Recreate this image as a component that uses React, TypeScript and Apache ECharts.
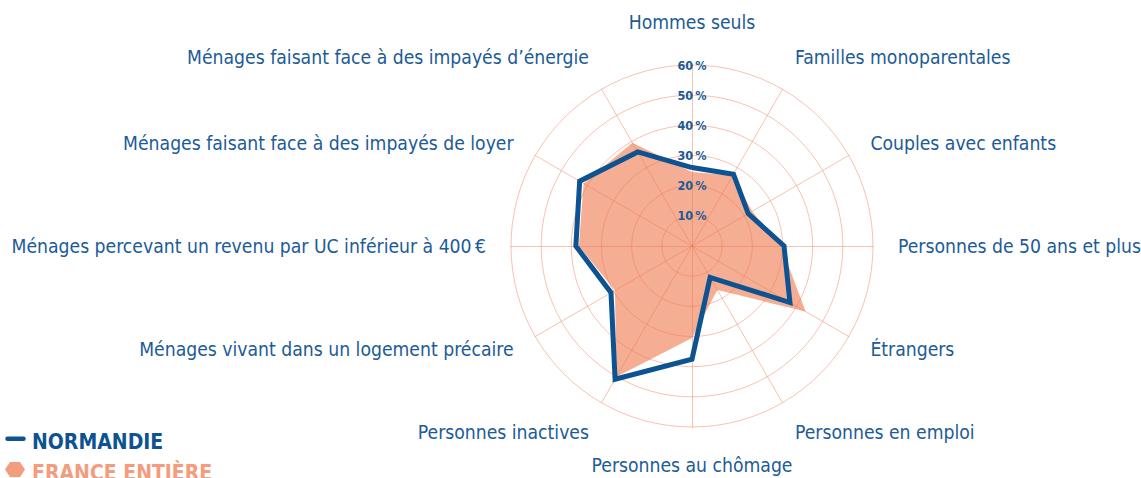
import React, { useEffect, useRef } from 'react';
import * as echarts from 'echarts';

// Categories listed clockwise starting from the top
const categories = [
  'Hommes seuls',
  'Familles monoparentales',
  'Couples avec enfants',
  'Personnes de 50 ans et plus',
  'Étrangers',
  'Personnes en emploi',
  'Personnes au chômage',
  'Personnes inactives',
  'Ménages vivant dans un logement précaire',
  'Ménages percevant un revenu par UC inférieur à 400\u202f€',
  'Ménages faisant face à des impayés de loyer',
  'Ménages faisant face à des impayés d’énergie',
];

const normandie = [26, 27.5, 21.5, 30.5, 37.5, 12, 37.5, 51, 31, 38.5, 43, 36];
const franceEntiere = [24.5, 27, 23, 29.5, 43.5, 16.8, 30.5, 50, 29.5, 37.5, 41.5, 39.5];

const axisMin = 0;
const axisMax = 60;
const tickCount = 6;

const seriesNames = ['NORMANDIE', 'FRANCE ENTIÈRE'];

// label placement style for each clockwise position
const labelKeys = ['top', 'up', 'mid', 'mid', 'mid', 'down', 'bottom', 'down', 'mid', 'mid', 'mid', 'up'];

const BLUE_TEXT = '#1c5b97';
const BLUE_LINE = '#0d5391';
const SALMON = '#f39c7e';
const LABEL_FONT = "'DejaVu Sans Condensed', 'DejaVu Sans', sans-serif";
const LABEL_SIZE = 19.2;

export default function App() {
  const ref = useRef<HTMLDivElement>(null);

  useEffect(() => {
    document.body.style.margin = '0';
    const chart = echarts.init(ref.current as HTMLDivElement, null, { renderer: 'svg' });
    const n = categories.length;
    // ECharts places indicators counter-clockwise; reorder to get clockwise layout
    const order = categories.map((_, i) => (i === 0 ? 0 : n - i));
    const keyByName: Record<string, string> = {};
    categories.forEach((c, i) => (keyByName[c] = labelKeys[i]));

    const indicator = order.map((k, j) => {
      const base: any = { name: categories[k], min: axisMin, max: axisMax };
      if (j === 0) {
        base.axisLabel = {
          show: true,
          showMinLabel: false,
          formatter: (v: number) => (v === 0 ? '' : `${v}\u202f%`),
          align: 'center',
          verticalAlign: 'middle',
          margin: 0,
          color: BLUE_TEXT,
          fontFamily: LABEL_FONT,
          fontWeight: 'bold',
          fontSize: 12.5,
        };
      }
      return base;
    });

    const tok = { fontFamily: LABEL_FONT, fontSize: LABEL_SIZE, color: BLUE_TEXT };
    const rich = {
      top: { ...tok, padding: [0, 0, 8, 0] },
      up: { ...tok, padding: [0, 0, 20, 0] },
      mid: { ...tok },
      down: { ...tok, padding: [16, 0, 0, 0] },
      bottom: { ...tok, padding: [4, 0, 0, 0] },
    };

    const gridLine = { color: 'rgba(238,120,80,0.45)', width: 1 };

    const hex = (cx: number, cy: number, r: number) => {
      const pts: number[][] = [];
      for (let i = 0; i < 6; i++) {
        const a = (Math.PI / 3) * i;
        pts.push([cx + r * Math.cos(a), cy + r * 0.88 * Math.sin(a)]);
      }
      return pts;
    };

    const legendFont = "bold 21px 'DejaVu Sans Condensed', 'DejaVu Sans', sans-serif";

    chart.setOption({
      animation: false,
      backgroundColor: '#ffffff',
      radar: {
        z: 3,
        center: [692, 246],
        radius: 181,
        startAngle: 90,
        shape: 'circle',
        splitNumber: tickCount,
        indicator,
        nameGap: 25,
        axisName: {
          color: BLUE_TEXT,
          fontFamily: LABEL_FONT,
          fontSize: LABEL_SIZE,
          formatter: (name: string) => `{${keyByName[name] || 'mid'}|${name}}`,
          rich,
        },
        axisLine: { show: true, lineStyle: gridLine },
        splitLine: { show: true, lineStyle: gridLine },
        splitArea: { show: false },
        axisTick: { show: false },
        axisLabel: { show: false },
      },
      series: [
        {
          type: 'radar',
          name: seriesNames[1],
          z: 2,
          symbol: 'none',
          lineStyle: { width: 0, opacity: 0 },
          areaStyle: { color: 'rgba(244,163,132,0.88)', opacity: 1 },
          data: [{ value: order.map((k) => franceEntiere[k]), name: seriesNames[1] }],
        },
        {
          type: 'radar',
          name: seriesNames[0],
          z: 4,
          symbol: 'none',
          lineStyle: { width: 5, color: BLUE_LINE, join: 'miter' },
          data: [{ value: order.map((k) => normandie[k]), name: seriesNames[0] }],
        },
      ],
      graphic: [
        {
          type: 'line',
          shape: { x1: 7.5, y1: 438.8, x2: 23.5, y2: 438.8 },
          style: { stroke: BLUE_LINE, lineWidth: 4.5, lineCap: 'round' },
        },
        {
          type: 'text',
          x: 32,
          y: 442,
          style: {
            text: seriesNames[0],
            fill: BLUE_LINE,
            font: legendFont,
            verticalAlign: 'middle',
          },
        },
        { type: 'polygon', shape: { points: hex(15, 469.5, 10) }, style: { fill: SALMON } },
        {
          type: 'text',
          x: 32,
          y: 473,
          style: {
            text: seriesNames[1],
            fill: SALMON,
            font: legendFont,
            verticalAlign: 'middle',
          },
        },
      ],
    });
    return () => chart.dispose();
  }, []);

  return <div ref={ref} style={{ position: 'absolute', left: 0, top: 0, width: 1141, height: 478 }} />;
}
